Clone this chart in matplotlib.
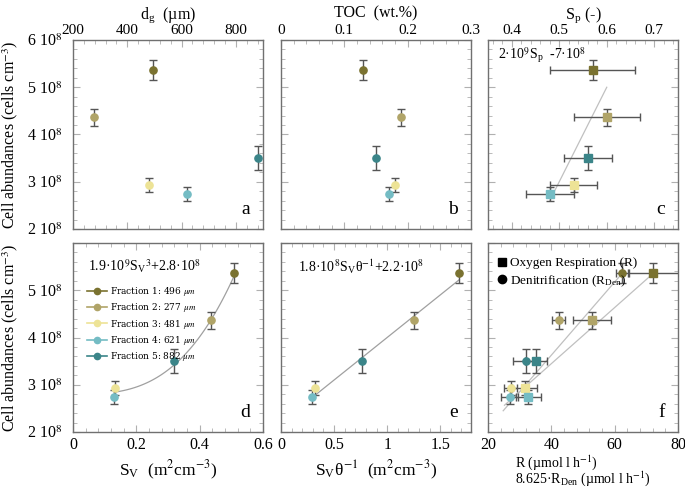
import numpy as np
import matplotlib
matplotlib.use("Agg")
import matplotlib.pyplot as plt
from matplotlib.ticker import AutoMinorLocator, FixedLocator

plt.rcParams["font.family"] = ["Liberation Serif", "DejaVu Serif"]
plt.rcParams["mathtext.fontset"] = "stix"

# data, one entry per sediment fraction
fractions = ["Fraction 1: 496 $\\mu m$", "Fraction 2: 277 $\\mu m$", "Fraction 3: 481 $\\mu m$",
             "Fraction 4: 621 $\\mu m$", "Fraction 5: 882 $\\mu m$"]
colors = ["#7a7230", "#b0a468", "#ede396", "#74bcc4", "#3b8589"]

cells = [5.365e8, 4.37e8, 2.93e8, 2.74e8, 3.50e8]
cells_err = [0.21e8, 0.18e8, 0.15e8, 0.15e8, 0.25e8]

dg = [496, 277, 481, 621, 882]
toc = [0.13, 0.19, 0.18, 0.17, 0.15]
sp = [0.57, 0.60, 0.53, 0.48, 0.56]
sp_err = [0.09, 0.07, 0.05, 0.05, 0.05]
sv = [0.507, 0.436, 0.133, 0.130, 0.319]
sv_theta = [1.68, 1.25, 0.32, 0.29, 0.76]
resp = [72.2, 52.7, 31.6, 32.7, 35.2]
resp_err = [8.0, 6.0, 4.0, 4.0, 3.5]
denit = [62.4, 42.3, 27.2, 26.9, 32.0]
denit_err = [2.0, 2.0, 2.0, 2.7, 4.0]

fit_c = (2e9, -7e8, 0.48, 0.60)
fit_d = (1.9e9, 2.8e8, 0.13, 0.51)
fit_e = (1.8e8, 2.2e8, 0.32, 1.68)
fit_f_den = (0.0774e8, 0.53e8, 24.8, 62.4)
fit_f_resp = (0.0594e8, 1.07e8, 25.2, 72.2)

W, H = 685, 488
fig = plt.figure(figsize=(W / 100, H / 100), dpi=100)

lefts = [73, 281, 488]
tops = [40, 243]
pw, ph = 190, 189
axes = {}
names = [["a", "b", "c"], ["d", "e", "f"]]
for r in range(2):
    for c in range(3):
        ax = fig.add_axes([lefts[c] / W, 1 - (tops[r] + ph) / H, pw / W, ph / H])
        axes[names[r][c]] = ax

ecol = "#555555"
ytick_vals = [2e8, 3e8, 4e8, 5e8, 6e8]


def style(ax, top_row, ylab):
    for s in ax.spines.values():
        s.set_color("#707070")
        s.set_linewidth(1.0)
    ax.set_ylim(2e8, 6e8)
    ax.yaxis.set_major_locator(FixedLocator(ytick_vals))
    ax.xaxis.set_minor_locator(AutoMinorLocator(5))
    ax.yaxis.set_minor_locator(AutoMinorLocator(5))
    ax.tick_params(which="both", direction="in", top=True, right=True, color="#b0b0b0",
                   labelsize=11.5)
    ax.tick_params(which="major", length=5)
    ax.tick_params(which="minor", length=3)
    ax.tick_params(axis="y", pad=8)
    if top_row:
        ax.tick_params(axis="x", labeltop=True, labelbottom=False, pad=2, labelsize=11)
        ax.xaxis.set_label_position("top")
    if ylab:
        labels = ["%d 10$^8$" % int(v / 1e8) for v in ytick_vals]
        if not top_row:
            labels[-1] = ""
        ax.set_yticklabels(labels)
        ax.set_ylabel("Cell abundances (cells cm$^{-3}$)", fontsize=11.5)
        ax.yaxis.set_label_coords(-0.28, 0.5)
    else:
        ax.set_yticklabels([])


def letter(ax, s):
    ax.text(0.93, 0.06, s, transform=ax.transAxes, ha="right", va="bottom", fontsize=14)


def points(ax, xs, xerr=None, marker="o", legend=False):
    for i in range(5):
        xe = None if xerr is None else xerr[i]
        ax.errorbar(xs[i], cells[i], yerr=cells_err[i], xerr=xe, fmt=marker, color=colors[i],
                    ecolor=ecol, elinewidth=1, capsize=3, markersize=5.2 if marker == "o" else 5.8,
                    label=fractions[i] if legend else None, zorder=3)


# a
ax = axes["a"]
points(ax, dg)
ax.set_xlim(200, 900)
ax.set_xticks([200, 400, 600, 800])
style(ax, True, True)
ax.set_xlabel("d$_\\mathregular{g}$  (µm)", fontsize=11.5, labelpad=4)
letter(ax, "a")

# b
ax = axes["b"]
points(ax, toc)
ax.set_xlim(0, 0.3)
ax.set_xticks([0, 0.1, 0.2, 0.3])
ax.set_xticklabels(["0", "0.1", "0.2", "0.3"])
style(ax, True, False)
ax.set_xlabel("TOC  (wt.%)", fontsize=11.5, labelpad=5)
letter(ax, "b")

# c
ax = axes["c"]
k, b0, x0, x1 = fit_c
xx = np.linspace(x0, x1, 20)
ax.plot(xx, k * xx + b0, color="#c0c0c0", lw=0.9, zorder=1)
points(ax, sp, xerr=sp_err, marker="s")
ax.set_xlim(0.35, 0.75)
ax.set_xticks([0.4, 0.5, 0.6, 0.7])
style(ax, True, False)
ax.set_xlabel("S$_\\mathregular{p}$ (-)", fontsize=11.5, labelpad=4)
ax.text(0.05, 0.92, "2·10$^9$S$_\\mathregular{p}$  -7·10$^8$", transform=ax.transAxes,
        fontsize=10, va="center")
letter(ax, "c")

# d
ax = axes["d"]
k, b0, x0, x1 = fit_d
xx = np.linspace(x0, x1, 60)
ax.plot(xx, k * xx ** 3 + b0, color="#a0a0a0", lw=0.9, zorder=1)
for i in range(5):
    ax.plot([], [], "-o", color=colors[i], markersize=4.5, lw=1.2, label=fractions[i])
points(ax, sv)
ax.set_xlim(0, 0.6)
ax.set_xticks([0, 0.2, 0.4, 0.6])
ax.set_xticklabels(["0", "0.2", "0.4", "0.6"])
style(ax, False, True)
ax.set_xlabel("S$_\\mathregular{V}$  (m$^2$cm$^{-3}$)", fontsize=12.5)
ax.text(0.08, 0.875, "1.9·10$^9$S$_\\mathregular{V}$$^3$+2.8·10$^8$", transform=ax.transAxes,
        fontsize=10, va="center")
ax.legend(loc="upper left", bbox_to_anchor=(0.05, 0.8), frameon=False,
          handlelength=2.2, handletextpad=0.4, labelspacing=0.35, borderpad=0,
          prop={"family": "DejaVu Serif", "size": 6.5})
letter(ax, "d")

# e
ax = axes["e"]
k, b0, x0, x1 = fit_e
xx = np.linspace(x0, x1, 20)
ax.plot(xx, k * xx + b0, color="#a0a0a0", lw=0.9, zorder=1)
points(ax, sv_theta)
ax.set_xlim(0, 1.79)
ax.set_xticks([0, 0.5, 1, 1.5])
ax.set_xticklabels(["0", "0.5", "1", "1.5"])
style(ax, False, False)
ax.set_xlabel("S$_\\mathregular{V}$θ$^{-1}$  (m$^2$cm$^{-3}$)", fontsize=12.5)
ax.text(0.09, 0.875, "1.8·10$^8$S$_\\mathregular{V}$θ$^{-1}$+2.2·10$^8$", transform=ax.transAxes,
        fontsize=10, va="center")
letter(ax, "e")

# f
ax = axes["f"]
for fit in (fit_f_den, fit_f_resp):
    k, b0, x0, x1 = fit
    xx = np.linspace(x0, x1, 20)
    ax.plot(xx, k * xx + b0, color="#c0c0c0", lw=0.9, zorder=1)
points(ax, resp, xerr=resp_err, marker="s")
points(ax, denit, xerr=denit_err, marker="o")
ax.set_xlim(20, 80)
ax.set_xticks([20, 40, 60, 80])
style(ax, False, False)
ax.set_xlabel("R (µmol l h$^{-1}$)\n8.625·R$_\\mathregular{Den}$ (µmol l h$^{-1}$)",
              fontsize=10, multialignment="left", linespacing=0.85, labelpad=0)
h1, = ax.plot([], [], "s", color="black", markersize=6)
h2, = ax.plot([], [], "o", color="black", markersize=6)
ax.legend([h1, h2], ["Oxygen Respiration (R)", "Denitrification (R$_\\mathregular{Den}$)"],
          loc="upper left", bbox_to_anchor=(0.02, 0.96), frameon=False, fontsize=9.5,
          handlelength=0.6, handletextpad=0.3, labelspacing=0.3, borderpad=0)
letter(ax, "f")

fig.savefig("out.png", dpi=100)
